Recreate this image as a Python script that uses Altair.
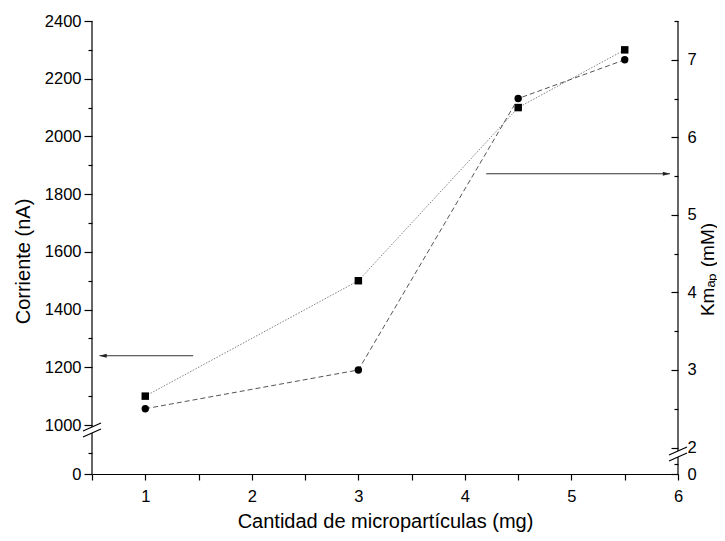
import altair as alt
import pandas as pd

# ---------------- data ----------------
x_cantidad = [1, 3, 4.5, 5.5]
corriente = [1100, 1500, 2100, 2300]      # squares -> left axis (nA)
km_ap = [2.5, 3.0, 6.5, 7.0]              # circles -> right axis (mM)

x_tick_values = [0.5, 1, 1.5, 2, 2.5, 3, 3.5, 4, 4.5, 5, 5.5, 6]
left_major_ticks = [0, 1000, 1200, 1400, 1600, 1800, 2000, 2200, 2400]
left_minor_ticks = [500, 1100, 1300, 1500, 1700, 1900, 2100, 2300]
right_major_ticks = [0, 2, 3, 4, 5, 6, 7]
right_minor_ticks = [1, 2.5, 3.5, 4.5, 5.5, 6.5, 7.5]

x_domain = [0.5, 6]
left_breakpoints = [0, 500, 1000, 2400]
right_breakpoints = [0, 1, 2, 7.5]

arrow_left_from = [1.45]
arrow_left_to = [0.57]
arrow_left_level = [1240]
arrow_right_from = [4.2]
arrow_right_to = [5.925]
arrow_right_level = [5.53]

left_axis_from = [0, 964]
left_axis_to = [857, 2400]
right_axis_from = [0, 1.79]
right_axis_to = [1.42, 7.5]
left_break_at = [911]
right_break_at = [1.606]

# ---------------- layout / style ----------------
W, H = 586, 453
LEFT_RANGE = [453, 432, 404, 0]
RIGHT_RANGE = [453, 443, 426.5, 0]
FONT = "Liberation Sans"
BREAK_PATH = "M-1,0.11L1,-0.78M-1,0.78L1,-0.11"
HEAD_L = "M0,0L1.8,-0.5L1.8,0.5Z"
HEAD_R = "M0,0L-1.8,-0.5L-1.8,0.5Z"

xsc = alt.Scale(domain=x_domain, nice=False, zero=False)
xax = alt.Axis(values=x_tick_values,
               labelExpr="datum.value % 1 === 0 ? format(datum.value, 'd') : ''",
               title="Cantidad de micropartículas (mg)",
               tickSize=6, labelPadding=8, labelFontSize=16.5,
               titleFontSize=20, titleY=47, titleBaseline="middle")

lsc = alt.Scale(domain=left_breakpoints, range=LEFT_RANGE, nice=False, zero=False)
rsc = alt.Scale(domain=right_breakpoints, range=RIGHT_RANGE, nice=False, zero=False)

lax = alt.Axis(values=left_major_ticks, orient="left", format="d", domain=False,
               tickSize=8, labelPadding=3, labelFontSize=16.5,
               title="Corriente (nA)", titleFontSize=20, titleAngle=270,
               titleX=-69, titleY=240, titleBaseline="middle", titleAlign="center")
lax_minor = alt.Axis(values=left_minor_ticks, orient="left", domain=False,
                     labels=False, tickSize=4, title=None)
rax = alt.Axis(values=right_major_ticks, orient="right", format="d", domain=False,
               offset=-7, tickSize=7, labelPadding=9, labelFontSize=16.5,
               title="Kmₐₚ (mM)", titleFontSize=19, titleAngle=270,
               titleX=36, titleY=248, titleBaseline="middle", titleAlign="center")
rax_minor = alt.Axis(values=right_minor_ticks, orient="right", domain=False,
                     offset=-4, labels=False, tickSize=4, title=None)


def X(field="x"):
    return alt.X(f"{field}:Q", scale=xsc, axis=xax)


# ---------------- left (Corriente) ----------------
sq = pd.DataFrame({"x": x_cantidad, "y": corriente})
arrL = pd.DataFrame({"x": arrow_left_from, "x2": arrow_left_to, "y": arrow_left_level})
arrL_tip = pd.DataFrame({"x": arrow_left_to, "y": arrow_left_level})
axL = pd.DataFrame({"x": [x_domain[0]] * 2, "y": left_axis_from, "y2": left_axis_to})
brL = pd.DataFrame({"x": [x_domain[0]], "y": left_break_at})

YL = alt.Y("y:Q", scale=lsc, axis=lax)
left_group = alt.layer(
    alt.Chart(sq).mark_line(color="#808080", strokeWidth=1, strokeDash=[1.5, 1.5]).encode(x=X(), y=YL),
    alt.Chart(sq).mark_point(shape="square", filled=True, color="black", size=56, opacity=1).encode(x=X(), y=YL),
    alt.Chart(arrL).mark_rule(color="#333333", strokeWidth=1).encode(x=X(), x2="x2:Q", y=YL),
    alt.Chart(arrL_tip).mark_point(shape=HEAD_L, filled=True, color="#222222", size=64, opacity=1).encode(x=X(), y=YL),
    alt.Chart(brL).mark_point(shape=BREAK_PATH, filled=False, color="black", strokeWidth=1.2, size=324, opacity=1).encode(x=X(), y=YL),
)
left_minor = alt.Chart(axL).mark_rule(color="black", strokeWidth=1.2).encode(
    x=X(), y=alt.Y("y:Q", scale=lsc, axis=lax_minor), y2="y2:Q")

# ---------------- right (Km_ap) ----------------
ci = pd.DataFrame({"x": x_cantidad, "y": km_ap})
arrR = pd.DataFrame({"x": arrow_right_from, "x2": arrow_right_to, "y": arrow_right_level})
arrR_tip = pd.DataFrame({"x": arrow_right_to, "y": arrow_right_level})
axR = pd.DataFrame({"x": [x_domain[1]] * 2, "y": right_axis_from, "y2": right_axis_to})
brR = pd.DataFrame({"x": [x_domain[1]], "y": right_break_at})

YR = alt.Y("y:Q", scale=rsc, axis=rax)
right_group = alt.layer(
    alt.Chart(ci).mark_line(color="#555555", strokeWidth=1, strokeDash=[5, 3]).encode(x=X(), y=YR),
    alt.Chart(ci).mark_point(shape="circle", filled=True, color="black", size=55, opacity=1).encode(x=X(), y=YR),
    alt.Chart(arrR).mark_rule(color="#333333", strokeWidth=1).encode(x=X(), x2="x2:Q", y=YR),
    alt.Chart(arrR_tip).mark_point(shape=HEAD_R, filled=True, color="#222222", size=64, opacity=1).encode(x=X(), y=YR),
    alt.Chart(brR).mark_point(shape=BREAK_PATH, filled=False, color="black", strokeWidth=1.2, size=324, opacity=1).encode(x=X(), y=YR),
)
right_minor = alt.Chart(axR).mark_rule(color="black", strokeWidth=1.2).encode(
    x=X(), y=alt.Y("y:Q", scale=rsc, axis=rax_minor), y2="y2:Q")

chart = alt.layer(left_group, left_minor, right_group, right_minor).resolve_scale(
    y="independent"
).properties(
    width=W, height=H,
    padding={"left": 84, "top": 13, "right": 39, "bottom": 58},
    autosize="none",
).configure_view(stroke=None).configure_axis(
    labelFont=FONT, titleFont=FONT, labelColor="black", titleColor="black",
    titleFontWeight="normal", grid=False, tickColor="black", domainColor="black",
    labelFlush=False, labelOverlap=False, tickWidth=1.2, domainWidth=1.2,
)

chart.save("out.html", embed_options={"renderer": "svg", "actions": False})
